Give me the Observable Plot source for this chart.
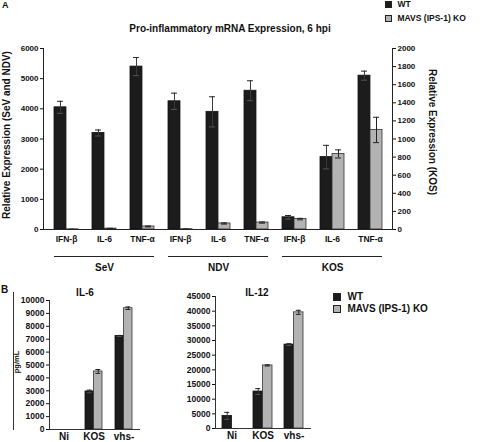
<!DOCTYPE html>
<html><head><meta charset="utf-8">
<script src="https://cdn.jsdelivr.net/npm/d3@7"></script>
<script src="https://cdn.jsdelivr.net/npm/@observablehq/plot@0.6"></script>
<style>
body{margin:0;background:#fff;}
#fig{position:relative;width:480px;height:442px;overflow:hidden;font-family:"Liberation Sans",Arial,sans-serif;font-weight:bold;color:#111;background:#fff;}
#fig svg{position:absolute;overflow:visible;}
.lab{position:absolute;white-space:nowrap;line-height:1;}
.leg{position:absolute;display:flex;align-items:center;white-space:nowrap;line-height:1;}
.sw{display:inline-block;border:1px solid #222;box-sizing:border-box;}
</style></head><body><div id="fig"></div>
<script>
// ---------- Panel A data ----------
const groupsA = ["SeV","SeV","SeV","NDV","NDV","NDV","KOS","KOS","KOS"];
const genesA  = ["IFN-β","IL-6","TNF-α","IFN-β","IL-6","TNF-α","IFN-β","IL-6","TNF-α"];
const wtA     = [4050, 3200, 5400, 4250, 3900, 4600, 135, 800, 1700];
const koA     = [5, 30, 100, 10, 200, 230, 115, 835, 1100];
const wtErrA  = [200, 100, 300, 270, 500, 330, 20, 130, 50];
const koErrA  = [3, 8, 15, 4, 20, 20, 8, 45, 140];
const groupNames = ["SeV","NDV","KOS"];
const leftTicksA  = [0,1000,2000,3000,4000,5000,6000];
const rightTicksA = [0,200,400,600,800,1000,1200,1400,1600,1800,2000];
const kosFactor = 3; // right axis (KOS) 2000 <-> left axis 6000

// ---------- Panel B data ----------
const catsB = ["Ni","KOS","vhs-"];
const il6WT = [0, 2950, 7250];
const il6KO = [0, 4500, 9400];
const il6WTerr = [0, 100, 40];
const il6KOerr = [0, 150, 100];
const il6Ticks = [0,1000,2000,3000,4000,5000,6000,7000,8000,9000,10000];
const il12WT = [4300, 12600, 28600];
const il12KO = [0, 21500, 39600];
const il12WTerr = [1200, 1000, 300];
const il12KOerr = [0, 200, 700];
const il12Ticks = [0,5000,10000,15000,20000,25000,30000,35000,40000,45000];

const WT_FILL = "#1c1c1c", KO_FILL = "#b3b3b3";
const fig = document.getElementById("fig");
const FONT = "Liberation Sans, Arial, sans-serif";
const plain = d => String(d);

// ---------- Panel A ----------
const keysA = genesA.map((g, i) => groupsA[i] + "|" + g);
const rowsA = keysA.map((k, i) => {
  const f = groupsA[i] === "KOS" ? kosFactor : 1;
  return {key: k, wt: wtA[i]*f, ko: koA[i]*f, wtE: wtErrA[i]*f, koE: koErrA[i]*f};
});
const groupRows = groupNames.map(g => {
  const ks = keysA.filter((k, i) => groupsA[i] === g);
  return {g, first: ks[0], mid: ks[1], last: ks[ks.length - 1]};
});
const WA = 480, HA = 280, mlA = 43, mrA = 88, mtA = 48, mbA = 51, padA = 0.38;
const stepA = (WA - mlA - mrA) / keysA.length, bwA = stepA * (1 - padA), hA = bwA / 2;

function pairMarks(rows, hw, capW) {
  const c = hw / 2;
  return [
    Plot.barY(rows, {x: "key", y: "wt", insetRight: hw, fill: WT_FILL, stroke: "#111", strokeWidth: 0.8, filter: d => d.wt > 0}),
    Plot.barY(rows, {x: "key", y: "ko", insetLeft: hw, fill: KO_FILL, stroke: "#333", strokeWidth: 0.8, filter: d => d.ko > 0}),
    Plot.ruleX(rows, {x: "key", y1: d => d.wt - d.wtE, y2: d => d.wt + d.wtE, dx: -c, stroke: "#3a3a3a", strokeWidth: 1, filter: d => d.wtE > 0}),
    Plot.ruleX(rows, {x: "key", y1: d => d.ko - d.koE, y2: d => d.ko + d.koE, dx: c, stroke: "#222", strokeWidth: 1, filter: d => d.koE > 0}),
    Plot.tickY(rows, {x: "key", y: d => d.wt + d.wtE, insetLeft: c - capW, insetRight: hw + c - capW, stroke: "#222", filter: d => d.wtE > 0}),
    Plot.tickY(rows, {x: "key", y: d => d.wt - d.wtE, insetLeft: c - capW, insetRight: hw + c - capW, stroke: "#555", filter: d => d.wtE > 0}),
    Plot.tickY(rows, {x: "key", y: d => d.ko + d.koE, insetLeft: hw + c - capW, insetRight: c - capW, stroke: "#222", filter: d => d.koE > 0}),
    Plot.tickY(rows, {x: "key", y: d => d.ko - d.koE, insetLeft: hw + c - capW, insetRight: c - capW, stroke: "#222", filter: d => d.koE > 0})
  ];
}

const svgA = Plot.plot({
  width: WA, height: HA,
  marginLeft: mlA, marginRight: mrA, marginTop: mtA, marginBottom: mbA,
  style: {fontFamily: FONT, fontWeight: "bold", fontSize: "8px", color: "#111", background: "transparent", overflow: "visible"},
  x: {domain: keysA, paddingInner: padA, paddingOuter: padA / 2, axis: null},
  y: {domain: [0, 6000], axis: null},
  marks: [
    ...pairMarks(rowsA, hA, 3),
    Plot.axisY(leftTicksA, {anchor: "left", tickSize: 3, tickPadding: 2, tickFormat: plain, label: null}),
    Plot.axisY(rightTicksA.map(v => v * kosFactor), {anchor: "right", tickSize: 3, tickPadding: 2, tickFormat: d => String(d / kosFactor), label: null}),
    Plot.axisX({anchor: "bottom", tickSize: 0, tickPadding: 6, tickFormat: k => k.split("|")[1], label: null, fontSize: 8.5}),
    Plot.frame({anchor: "left", stroke: "#222"}),
    Plot.frame({anchor: "right", stroke: "#222"}),
    Plot.frame({anchor: "bottom", stroke: "#222"}),
    Plot.ruleY(groupRows, {x1: "first", x2: "last", y: () => 0, dy: 27, stroke: "#222", strokeWidth: 1}),
    Plot.text(groupRows, {x: "mid", y: () => 0, text: "g", dy: 38, fontSize: 10}),
    Plot.text(["Relative Expression (SeV and NDV)"], {frameAnchor: "left", textAnchor: "middle", rotate: -90, dx: -37, dy: -4, fontSize: 10}),
    Plot.text(["Relative Expression (KOS)"], {frameAnchor: "right", textAnchor: "middle", rotate: 90, dx: 40, dy: -7, fontSize: 10})
  ]
});
svgA.style.left = "0px"; svgA.style.top = "0px";
fig.appendChild(svgA);

// ---------- Panel B ----------
function smallChart(cats, wt, ko, wtE, koE, ticks, opt) {
  const rows = cats.map((c, i) => ({key: c, wt: wt[i], ko: ko[i], wtE: wtE[i], koE: koE[i]}));
  const step = (opt.width - opt.ml - opt.mr) / cats.length, hw = step * (1 - opt.pad) / 2;
  const svg = Plot.plot({
    width: opt.width, height: opt.height,
    marginLeft: opt.ml, marginRight: opt.mr, marginTop: opt.mt, marginBottom: opt.mb,
    style: {fontFamily: FONT, fontWeight: "bold", fontSize: "8.5px", color: "#111", background: "transparent", overflow: "visible"},
    x: {domain: cats, paddingInner: opt.pad, paddingOuter: opt.pad / 2, axis: null},
    y: {domain: [0, ticks[ticks.length - 1]], axis: null},
    marks: [
      ...pairMarks(rows, hw, 2.5),
      Plot.axisY(ticks, {anchor: "left", tickSize: 3, tickPadding: 2, tickFormat: plain, label: null}),
      Plot.axisX({anchor: "bottom", tickSize: 0, tickPadding: 3, label: null, fontSize: 10}),
      Plot.frame({anchor: "left", stroke: "#333"}),
      Plot.frame({anchor: "bottom", stroke: "#333"})
    ]
  });
  svg.style.left = opt.left + "px"; svg.style.top = opt.top + "px";
  fig.appendChild(svg);
}
smallChart(catsB, il6WT, il6KO, il6WTerr, il6KOerr, il6Ticks,
  {left: 0, top: 280, width: 160, height: 162, ml: 49, mr: 21, mt: 20, mb: 13, pad: 0.43});
smallChart(catsB, il12WT, il12KO, il12WTerr, il12KOerr, il12Ticks,
  {left: 160, top: 280, width: 160, height: 162, ml: 55, mr: 10, mt: 16, mb: 14, pad: 0.4});

// ---------- Text, legends ----------
function lab(text, css) {
  const d = document.createElement("div");
  d.className = "lab"; d.textContent = text;
  Object.assign(d.style, css);
  fig.appendChild(d);
  return d;
}
function legend(x, yCenter, size, fontSize, fill, text) {
  const d = document.createElement("div");
  d.className = "leg";
  Object.assign(d.style, {left: x + "px", top: (yCenter - 6) + "px", height: "12px", fontSize: fontSize + "px"});
  const s = document.createElement("span");
  s.className = "sw";
  Object.assign(s.style, {width: size + "px", height: size + "px", background: fill, marginRight: (fontSize * 0.65) + "px"});
  d.appendChild(s);
  d.appendChild(document.createTextNode(text));
  fig.appendChild(d);
}
lab("A", {left: "2px", top: "1px", fontSize: "9px"});
lab("Pro-inflammatory mRNA Expression, 6 hpi", {left: "230px", top: "24px", fontSize: "10px", transform: "translateX(-50%)"});
legend(385, 4.5, 7, 8.5, WT_FILL, "WT");
legend(385, 18.5, 7, 8.5, KO_FILL, "MAVS (IPS-1) KO");

lab("B", {left: "1px", top: "285px", fontSize: "10px"});
lab("IL-6", {left: "85px", top: "288px", fontSize: "10px", transform: "translateX(-50%)"});
lab("IL-12", {left: "257px", top: "288px", fontSize: "10px", transform: "translateX(-50%)"});
lab("pg/mL", {left: "17px", top: "362px", fontSize: "7.5px", transform: "translate(-50%,-50%) rotate(-90deg)"});
const vline = document.createElement("div");
Object.assign(vline.style, {position: "absolute", left: "13px", top: "292px", width: "0px", height: "138px", borderLeft: "1px solid #333"});
fig.appendChild(vline);
legend(333, 296.5, 8, 10, WT_FILL, "WT");
legend(333, 309, 8, 10, KO_FILL, "MAVS (IPS-1) KO");
</script></body></html>
